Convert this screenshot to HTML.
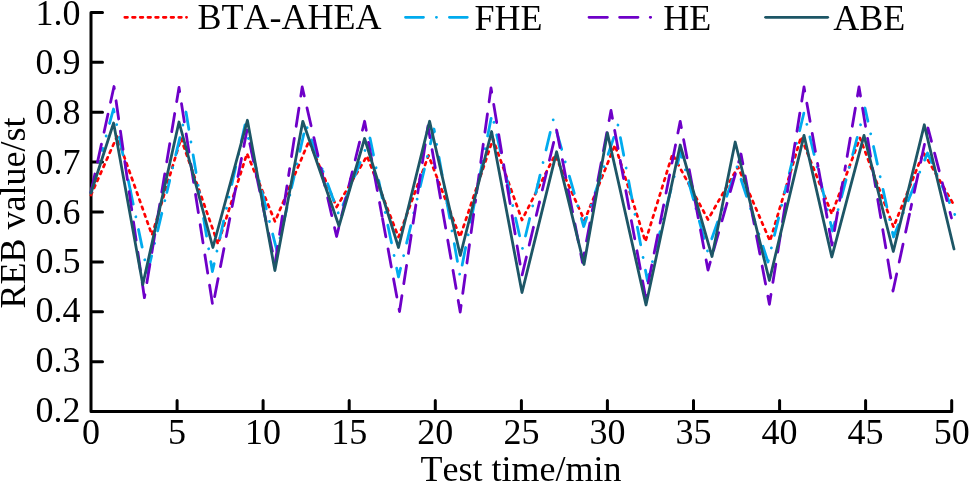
<!DOCTYPE html>
<html><head><meta charset="utf-8"><title>REB value chart</title>
<style>
html,body{margin:0;padding:0;background:#fff;}
body{width:969px;height:482px;overflow:hidden;}
svg{display:block;}
text{font-family:"Liberation Serif","Times New Roman",serif;font-size:36px;fill:#000;font-kerning:none;}
</style></head><body>
<svg width="969" height="482" viewBox="0 0 969 482">

<path d="M91,12.4 L91,411.6 L951.7,411.6 M91,411.6 L102.5,411.6 M91,361.7 L102.5,361.7 M91,311.8 L102.5,311.8 M91,261.9 L102.5,261.9 M91,212.0 L102.5,212.0 M91,162.1 L102.5,162.1 M91,112.2 L102.5,112.2 M91,62.3 L102.5,62.3 M91,12.4 L102.5,12.4 M91.0,411.6 L91.0,400.5 M177.1,411.6 L177.1,400.5 M263.1,411.6 L263.1,400.5 M349.2,411.6 L349.2,400.5 M435.3,411.6 L435.3,400.5 M521.4,411.6 L521.4,400.5 M607.4,411.6 L607.4,400.5 M693.5,411.6 L693.5,400.5 M779.6,411.6 L779.6,400.5 M865.6,411.6 L865.6,400.5 M951.7,411.6 L951.7,400.5" fill="none" stroke="#000" stroke-width="3" stroke-linecap="round" stroke-linejoin="round"/>
<polyline points="91.0,195.0 117.0,136.5 152.0,235.0 181.0,138.5 218.0,244.0 247.0,153.5 275.0,221.5 309.0,141.0 336.6,207.0 367.0,156.0 398.5,237.0 428.5,155.5 460.0,237.0 493.0,139.0 522.0,220.0 555.0,155.0 584.5,220.5 615.0,145.0 645.4,241.5 672.5,154.0 708.0,219.5 738.0,167.0 770.0,241.0 801.0,137.0 831.8,214.0 860.0,138.0 893.5,227.0 923.5,152.5 954.5,206.0" fill="none" stroke="#ff0000" stroke-width="2.7" stroke-dasharray="2.7 5" stroke-linecap="round" stroke-linejoin="round"/>
<polyline points="91.0,192.0 102.2,150.5" fill="none" stroke="#00abee" stroke-width="2.8" stroke-dasharray="18 12.9 0.1 12.9" stroke-dashoffset="0.00" stroke-linecap="round" stroke-linejoin="round"/>
<polyline points="102.2,150.5 113.5,109.0 130.5,191.0" fill="none" stroke="#00abee" stroke-width="2.8" stroke-dasharray="18 12.9 0.1 12.9" stroke-dashoffset="15.90" stroke-linecap="round" stroke-linejoin="round"/>
<polyline points="130.5,191.0 147.5,273.0 166.8,192.5" fill="none" stroke="#00abee" stroke-width="2.8" stroke-dasharray="18 12.9 0.1 12.9" stroke-dashoffset="4.56" stroke-linecap="round" stroke-linejoin="round"/>
<polyline points="166.8,192.5 186.0,112.0 199.2,191.7" fill="none" stroke="#00abee" stroke-width="2.8" stroke-dasharray="18 12.9 0.1 12.9" stroke-dashoffset="5.53" stroke-linecap="round" stroke-linejoin="round"/>
<polyline points="199.2,191.7 212.4,271.5 228.7,198.3" fill="none" stroke="#00abee" stroke-width="2.8" stroke-dasharray="18 12.9 0.1 12.9" stroke-dashoffset="16.96" stroke-linecap="round" stroke-linejoin="round"/>
<polyline points="228.7,198.3 245.0,125.0 261.0,188.0" fill="none" stroke="#00abee" stroke-width="2.8" stroke-dasharray="18 12.9 0.1 12.9" stroke-dashoffset="29.76" stroke-linecap="round" stroke-linejoin="round"/>
<polyline points="261.0,188.0 277.0,251.0 291.5,187.8" fill="none" stroke="#00abee" stroke-width="2.8" stroke-dasharray="18 12.9 0.1 12.9" stroke-dashoffset="40.30" stroke-linecap="round" stroke-linejoin="round"/>
<polyline points="291.5,187.8 306.0,124.5 322.5,169.8" fill="none" stroke="#00abee" stroke-width="2.8" stroke-dasharray="18 12.9 0.1 12.9" stroke-dashoffset="6.51" stroke-linecap="round" stroke-linejoin="round"/>
<polyline points="322.5,169.8 339.0,215.0 354.5,176.5" fill="none" stroke="#00abee" stroke-width="2.8" stroke-dasharray="18 12.9 0.1 12.9" stroke-dashoffset="29.02" stroke-linecap="round" stroke-linejoin="round"/>
<polyline points="354.5,176.5 370.0,138.0 384.2,207.5" fill="none" stroke="#00abee" stroke-width="2.8" stroke-dasharray="18 12.9 0.1 12.9" stroke-dashoffset="2.90" stroke-linecap="round" stroke-linejoin="round"/>
<polyline points="384.2,207.5 398.5,277.0 416.2,203.0" fill="none" stroke="#00abee" stroke-width="2.8" stroke-dasharray="18 12.9 0.1 12.9" stroke-dashoffset="25.85" stroke-linecap="round" stroke-linejoin="round"/>
<polyline points="416.2,203.0 434.0,129.0 460.0,276.0 492.0,114.0 507.2,181.2" fill="none" stroke="#00abee" stroke-width="2.8" stroke-dasharray="18 12.9 0.1 12.9" stroke-dashoffset="26.98" stroke-linecap="round" stroke-linejoin="round"/>
<polyline points="507.2,181.2 522.5,248.5 537.9,184.2" fill="none" stroke="#00abee" stroke-width="2.8" stroke-dasharray="18 12.9 0.1 12.9" stroke-dashoffset="5.94" stroke-linecap="round" stroke-linejoin="round"/>
<polyline points="537.9,184.2 553.2,119.8 568.5,173.2" fill="none" stroke="#00abee" stroke-width="2.8" stroke-dasharray="18 12.9 0.1 12.9" stroke-dashoffset="8.74" stroke-linecap="round" stroke-linejoin="round"/>
<polyline points="568.5,173.2 583.7,226.5 600.9,175.8" fill="none" stroke="#00abee" stroke-width="2.8" stroke-dasharray="18 12.9 0.1 12.9" stroke-dashoffset="40.81" stroke-linecap="round" stroke-linejoin="round"/>
<polyline points="600.9,175.8 618.0,125.0 632.8,203.0" fill="none" stroke="#00abee" stroke-width="2.8" stroke-dasharray="18 12.9 0.1 12.9" stroke-dashoffset="21.33" stroke-linecap="round" stroke-linejoin="round"/>
<polyline points="632.8,203.0 647.5,281.0 680.5,152.0 694.0,201.5" fill="none" stroke="#00abee" stroke-width="2.8" stroke-dasharray="18 12.9 0.1 12.9" stroke-dashoffset="19.41" stroke-linecap="round" stroke-linejoin="round"/>
<polyline points="694.0,201.5 707.5,251.0 722.2,209.0" fill="none" stroke="#00abee" stroke-width="2.8" stroke-dasharray="18 12.9 0.1 12.9" stroke-dashoffset="23.59" stroke-linecap="round" stroke-linejoin="round"/>
<polyline points="722.2,209.0 737.0,167.0 752.5,214.5" fill="none" stroke="#00abee" stroke-width="2.8" stroke-dasharray="18 12.9 0.1 12.9" stroke-dashoffset="30.39" stroke-linecap="round" stroke-linejoin="round"/>
<polyline points="752.5,214.5 768.0,262.0 786.0,187.2" fill="none" stroke="#00abee" stroke-width="2.8" stroke-dasharray="18 12.9 0.1 12.9" stroke-dashoffset="10.44" stroke-linecap="round" stroke-linejoin="round"/>
<polyline points="786.0,187.2 804.0,112.5 832.5,231.0 865.0,108.0 893.5,237.0 927.5,153.0 955.0,215.0" fill="none" stroke="#00abee" stroke-width="2.8" stroke-dasharray="18 12.9 0.1 12.9" stroke-dashoffset="29.71" stroke-linecap="round" stroke-linejoin="round"/>
<polyline points="91.0,192.0 114.0,86.5 144.4,297.7 179.0,87.5 212.8,306.0 247.0,130.0 275.0,264.0 288.6,175.5" fill="none" stroke="#6e00c8" stroke-width="2.8" stroke-dasharray="18.4 12.2" stroke-dashoffset="0.00" stroke-linecap="round" stroke-linejoin="round"/>
<polyline points="288.6,175.5 302.2,87.0 319.4,161.8" fill="none" stroke="#6e00c8" stroke-width="2.8" stroke-dasharray="18.4 12.2" stroke-dashoffset="11.46" stroke-linecap="round" stroke-linejoin="round"/>
<polyline points="319.4,161.8 336.6,236.5 350.6,178.9" fill="none" stroke="#6e00c8" stroke-width="2.8" stroke-dasharray="18.4 12.2" stroke-dashoffset="24.30" stroke-linecap="round" stroke-linejoin="round"/>
<polyline points="350.6,178.9 364.6,121.3 382.1,216.4" fill="none" stroke="#6e00c8" stroke-width="2.8" stroke-dasharray="18.4 12.2" stroke-dashoffset="11.12" stroke-linecap="round" stroke-linejoin="round"/>
<polyline points="382.1,216.4 399.5,311.5 428.0,126.0 460.2,312.0 475.6,200.0" fill="none" stroke="#6e00c8" stroke-width="2.8" stroke-dasharray="18.4 12.2" stroke-dashoffset="28.19" stroke-linecap="round" stroke-linejoin="round"/>
<polyline points="475.6,200.0 491.0,88.0 506.5,181.8" fill="none" stroke="#6e00c8" stroke-width="2.8" stroke-dasharray="18.4 12.2" stroke-dashoffset="23.35" stroke-linecap="round" stroke-linejoin="round"/>
<polyline points="506.5,181.8 522.0,275.5 539.3,202.7" fill="none" stroke="#6e00c8" stroke-width="2.8" stroke-dasharray="18.4 12.2" stroke-dashoffset="26.86" stroke-linecap="round" stroke-linejoin="round"/>
<polyline points="539.3,202.7 556.6,130.0 569.5,196.2" fill="none" stroke="#6e00c8" stroke-width="2.8" stroke-dasharray="18.4 12.2" stroke-dashoffset="17.52" stroke-linecap="round" stroke-linejoin="round"/>
<polyline points="569.5,196.2 582.5,262.5 611.0,110.5 645.5,297.0 680.2,121.3 708.0,270.0 741.0,154.0 769.4,304.3 804.0,87.0 818.0,166.0" fill="none" stroke="#6e00c8" stroke-width="2.8" stroke-dasharray="18.4 12.2" stroke-dashoffset="2.34" stroke-linecap="round" stroke-linejoin="round"/>
<polyline points="818.0,166.0 832.0,245.0 845.5,166.0" fill="none" stroke="#6e00c8" stroke-width="2.8" stroke-dasharray="18.4 12.2" stroke-dashoffset="27.57" stroke-linecap="round" stroke-linejoin="round"/>
<polyline points="845.5,166.0 859.0,87.0 876.0,189.0" fill="none" stroke="#6e00c8" stroke-width="2.8" stroke-dasharray="18.4 12.2" stroke-dashoffset="20.85" stroke-linecap="round" stroke-linejoin="round"/>
<polyline points="876.0,189.0 893.0,291.0 910.5,209.5" fill="none" stroke="#6e00c8" stroke-width="2.8" stroke-dasharray="18.4 12.2" stroke-dashoffset="19.99" stroke-linecap="round" stroke-linejoin="round"/>
<polyline points="910.5,209.5 928.0,128.0 951.5,218.0" fill="none" stroke="#6e00c8" stroke-width="2.8" stroke-dasharray="18.4 12.2" stroke-dashoffset="13.05" stroke-linecap="round" stroke-linejoin="round"/>
<polyline points="91.0,193.0 113.6,123.0 142.8,284.5 179.0,122.0 212.9,247.5 247.4,120.3 274.9,270.5 302.8,121.3 339.0,226.0 364.6,138.5 398.5,247.5 429.6,121.3 460.3,255.5 491.6,131.5 522.0,292.5 556.6,151.8 584.0,264.5 607.4,133.0 646.0,305.0 680.2,145.0 712.0,256.5 735.2,142.0 769.4,280.5 804.0,135.4 831.8,257.0 864.0,135.4 893.3,251.5 924.3,124.8 954.0,249.0" fill="none" stroke="#1d5666" stroke-width="2.8" stroke-linecap="round" stroke-linejoin="round"/>
<text x="80.6" y="421.9" text-anchor="end">0.2</text>
<text x="80.6" y="371.8" text-anchor="end">0.3</text>
<text x="80.6" y="322.1" text-anchor="end">0.4</text>
<text x="80.6" y="272.9" text-anchor="end">0.5</text>
<text x="80.6" y="223.6" text-anchor="end">0.6</text>
<text x="80.6" y="173.9" text-anchor="end">0.7</text>
<text x="80.6" y="124.0" text-anchor="end">0.8</text>
<text x="80.6" y="74.1" text-anchor="end">0.9</text>
<text x="80.6" y="25.2" text-anchor="end">1.0</text>
<text x="91.0" y="443.6" text-anchor="middle">0</text>
<text x="177.1" y="443.6" text-anchor="middle">5</text>
<text x="263.1" y="443.6" text-anchor="middle">10</text>
<text x="349.2" y="443.6" text-anchor="middle">15</text>
<text x="435.3" y="443.6" text-anchor="middle">20</text>
<text x="521.4" y="443.6" text-anchor="middle">25</text>
<text x="607.4" y="443.6" text-anchor="middle">30</text>
<text x="693.5" y="443.6" text-anchor="middle">35</text>
<text x="779.6" y="443.6" text-anchor="middle">40</text>
<text x="865.6" y="443.6" text-anchor="middle">45</text>
<text x="951.7" y="443.6" text-anchor="middle">50</text>
<text x="521" y="480.5" text-anchor="middle">Test time/min</text>
<text transform="translate(24.9,212.9) rotate(-90)" text-anchor="middle">REB value/st</text>
<line x1="124.8" y1="17.3" x2="186.6" y2="17.3" stroke="#ff0000" stroke-width="2.7" stroke-dasharray="2.7 5" stroke-linecap="round"/>
<text x="197.6" y="28.8">BTA-AHEA</text>
<line x1="405.5" y1="17.3" x2="467.3" y2="17.3" stroke="#00abee" stroke-width="2.8" stroke-dasharray="18 12.9 0.1 12.9" stroke-linecap="round"/>
<text x="474.5" y="29.7">FHE</text>
<line x1="589" y1="17.3" x2="650.7" y2="17.3" stroke="#6e00c8" stroke-width="2.8" stroke-dasharray="18.4 12.2" stroke-linecap="round"/>
<text x="663.3" y="29.7">HE</text>
<line x1="765.6" y1="17.3" x2="827.7" y2="17.3" stroke="#1d5666" stroke-width="2.8" stroke-linecap="round"/>
<text x="833.3" y="29.7">ABE</text>
</svg>
</body></html>
